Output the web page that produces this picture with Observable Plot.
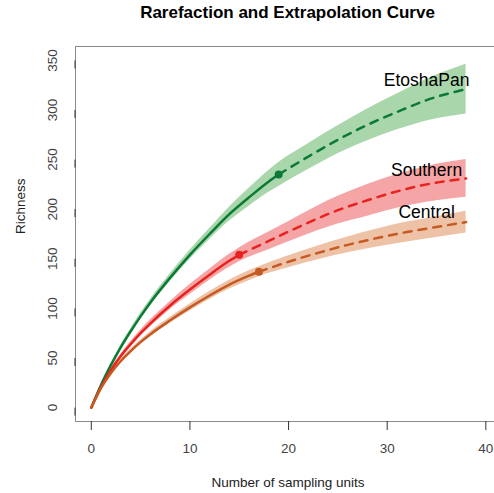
<!DOCTYPE html>
<html><head><meta charset="utf-8">
<script src="https://cdn.jsdelivr.net/npm/d3@7"></script>
<script src="https://cdn.jsdelivr.net/npm/@observablehq/plot@0.6"></script>
<style>
html,body{margin:0;padding:0;background:#fff;overflow:hidden}
#wrap{position:relative;width:494px;height:493px}
#title{position:absolute;top:2.6px;left:287.5px;transform:translateX(-50%);white-space:nowrap;font:bold 17px "Liberation Sans",Arial,sans-serif;line-height:20px;color:#000}
</style></head><body>
<div id="wrap"><div id="title">Rarefaction and Extrapolation Curve</div><div id="chart"></div></div>
<script>
// ---- data ----
const seriesNames = ["EtoshaPan", "Southern", "Central"];
const sampleSizes = [19, 15, 17]; // observed sampling units (end of rarefaction)

const etoshaX  = [0,1,2,3,4,5,6,8,10,12,14,16,18,19,22,25,28,31,34,38];
const etoshaY  = [0,23,43,61,77,92,106,131,154,175,195,212,228,235,253,270,285,298,310,321];
const etoshaLo = [0,22,41.5,59,74.5,89,102.7,127,149.5,169.5,188,203,217,223,240,256,269,280,289,296];
const etoshaHi = [0,24,44.5,63,79.5,95,109.3,135,158.5,180.5,202,221,239,247,266,284,301,316,331,346];

const southX  = [0,1,2,3,4,5,6,8,10,12,14,15,18,21,25,28,31,34,38];
const southY  = [0,21,38,52,64,75,85,103,119,134,148,154,168,182,199,209,218,225,231];
const southLo = [0,20,36.5,50,61.5,72,81.5,99,114,128.5,141.5,147,159,171,185,193,201,207,212];
const southHi = [0,22,39.5,54,66.5,78,88.5,107,124,139.5,154.5,161,177,193,213,225,235,243,250];

const centralX  = [0,1,2,3,4,5,6,8,10,12,14,16,17,20,23,26,29,32,35,38];
const centralY  = [0,20,35,47,57,66,74,88,101,113,124,133,137,147,156,164,171,177,182,187];
const centralLo = [0,19,34,45.5,55,64,71.5,85,97.5,109,119.5,128,132,141,149,156,162,167,171.5,176];
const centralHi = [0,21,36,48.5,59,68,76.5,91,104.5,117,128.5,138,142,153,163,172,180,187,192.5,198];

const labelX = [34, 34, 34];
const labelY = [330, 239, 197];

const xTicks = [0, 10, 20, 30, 40];
const yTicks = [0, 50, 100, 150, 200, 250, 300, 350];

// ---- styles ----
const lineColors = ["#0B7A37", "#E8221E", "#C55A22"];
const bandColors = ["#A9D6AB", "#F6A5A6", "#EEC2A6"];

const raw = [
  [etoshaX, etoshaY, etoshaLo, etoshaHi],
  [southX, southY, southLo, southHi],
  [centralX, centralY, centralLo, centralHi]
];
const tables = raw.map(([X, Y, L, H], i) =>
  X.map((x, j) => ({series: seriesNames[i], x, y: Y[j], lo: L[j], hi: H[j], n: sampleSizes[i]})));

const marks = [];
tables.forEach((t, i) => {
  marks.push(Plot.areaY(t, {x: "x", y1: "lo", y2: "hi", fill: bandColors[i], curve: "monotone-x"}));
});
tables.forEach((t, i) => {
  marks.push(Plot.lineY(t.filter(d => d.x <= d.n), {x: "x", y: "y", stroke: lineColors[i], strokeWidth: 2.5, curve: "monotone-x"}));
  marks.push(Plot.lineY(t.filter(d => d.x >= d.n), {x: "x", y: "y", stroke: lineColors[i], strokeWidth: 2.5, strokeDasharray: "8,7", curve: "monotone-x"}));
  marks.push(Plot.dot(t.filter(d => d.x === d.n), {x: "x", y: "y", r: 4, fill: lineColors[i], stroke: "none"}));
});
marks.push(Plot.text(seriesNames.map((s, i) => ({s, x: labelX[i], y: labelY[i]})),
  {x: "x", y: "y", text: "s", fontSize: 17.5, fill: "#000"}));

// frame (R box): left, top, bottom
marks.push(Plot.ruleY([-14], {stroke: "#8a8a8a"}));
marks.push(Plot.ruleY([364], {stroke: "#8a8a8a"}));
marks.push(Plot.ruleX([-1.6], {stroke: "#8a8a8a"}));

marks.push(Plot.axisX(xTicks, {tickSize: 9, tickPadding: 13.4, stroke: "#333", fill: "#444", fontSize: 13.5, label: null}));
marks.push(Plot.axisY(yTicks, {tickSize: 8, tickPadding: 10.3, rotate: -90, textAnchor: "middle", lineAnchor: "bottom", stroke: "#333", fill: "#444", fontSize: 13.5, label: null}));
marks.push(Plot.text(["Number of sampling units"], {frameAnchor: "bottom", dx: 3, dy: 65, lineAnchor: "bottom", fontSize: 13.5, fill: "#222"}));
marks.push(Plot.text(["Richness"], {frameAnchor: "left", dx: -51, rotate: -90, lineAnchor: "bottom", fontSize: 13.5, fill: "#222"}));

const chart = Plot.plot({
  width: 494, height: 493,
  marginLeft: 75, marginRight: 0, marginTop: 46, marginBottom: 72,
  style: {fontFamily: '"Liberation Sans", Arial, sans-serif', fontSize: "13.5px", background: "#fff", color: "#000", overflow: "visible"},
  x: {domain: [-1.6, 40.88]},
  y: {domain: [-14, 364]},
  marks
});
document.getElementById("chart").appendChild(chart);
</script>
</body></html>
